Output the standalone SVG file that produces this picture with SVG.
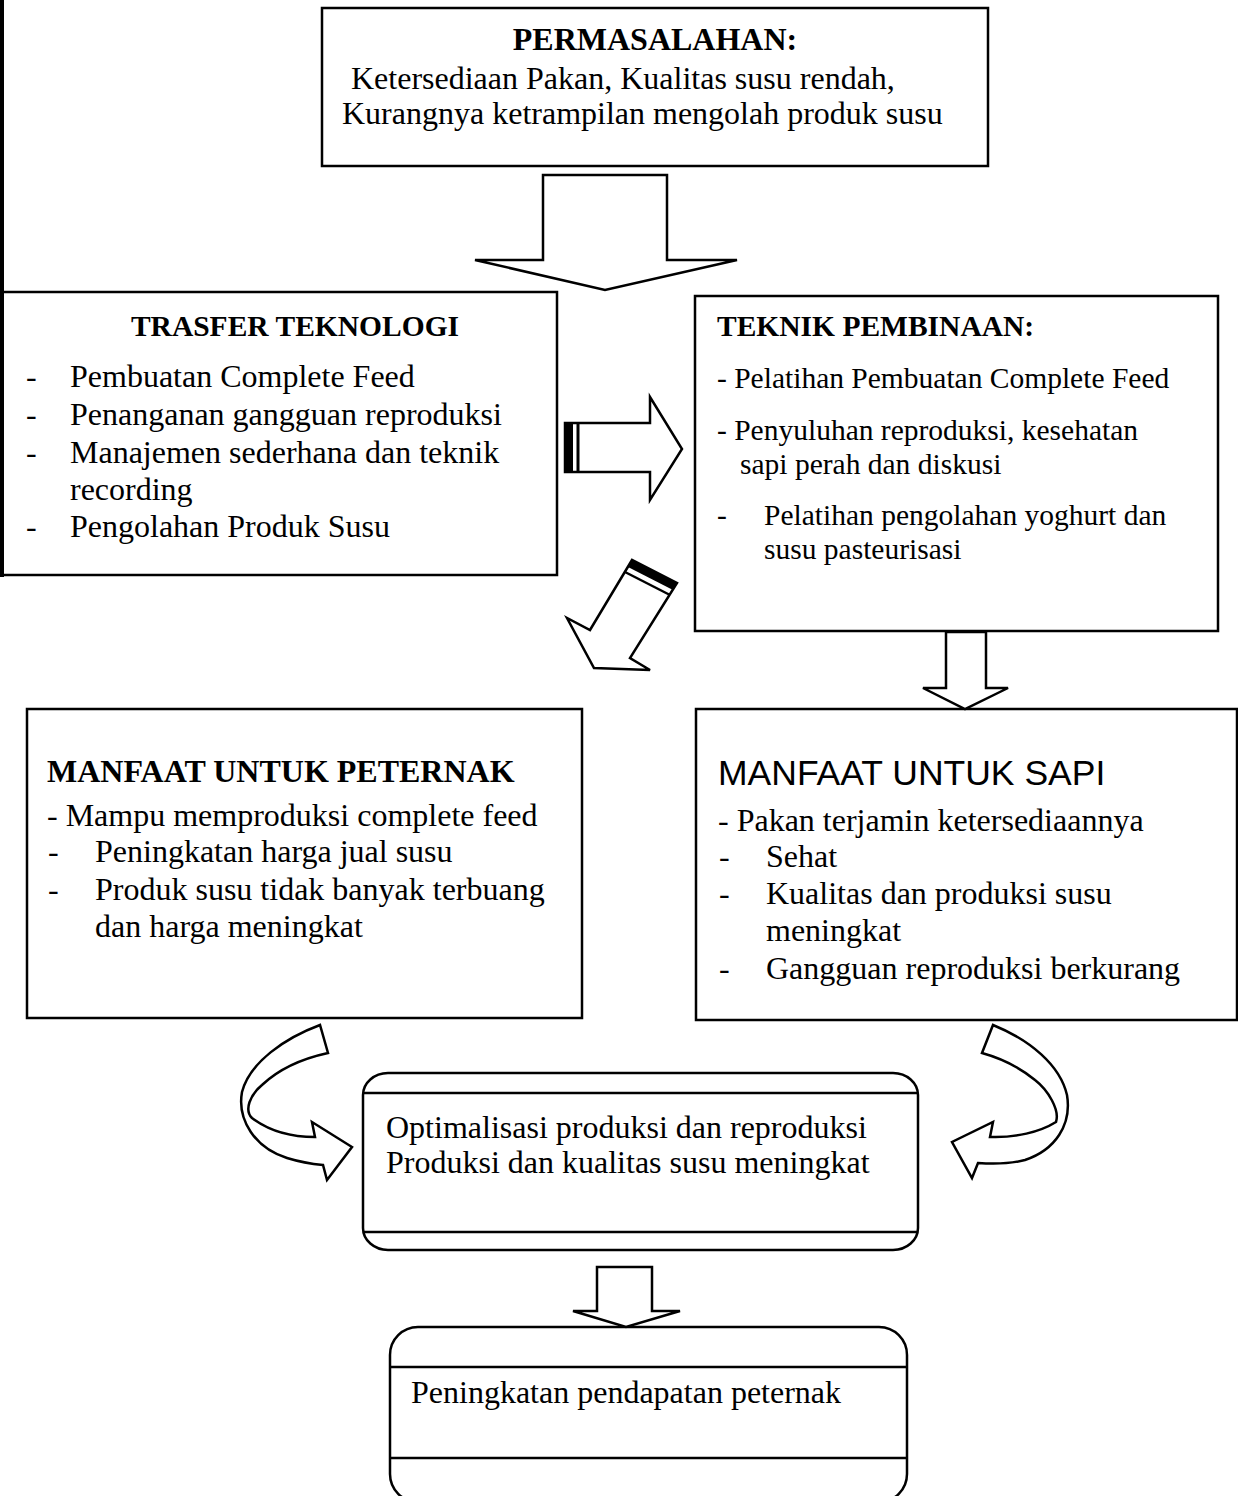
<svg xmlns="http://www.w3.org/2000/svg" width="1238" height="1496" viewBox="0 0 1238 1496">
<style>
.box{fill:none;stroke:#000;stroke-width:2.5}
.arr{fill:#fff;stroke:#000;stroke-width:2.5;stroke-linejoin:miter}
.t{font-family:"Liberation Serif","Times New Roman",serif;font-size:32px;fill:#000}
.s{font-size:29.5px}
.b{font-weight:bold}
.sans{font-family:"Liberation Sans",Arial,sans-serif;font-size:35.5px;fill:#000}
</style>
<rect width="1238" height="1496" fill="#fff"/>
<rect x="0" y="0" width="4" height="577" fill="#000"/>

<g id="permasalahan">
<rect class="box" x="322" y="8" width="666" height="158"/>
<text class="t b" x="655" y="50" text-anchor="middle">PERMASALAHAN:</text>
<text class="t" x="351" y="89">Ketersediaan Pakan, Kualitas susu rendah,</text>
<text class="t" x="342" y="124">Kurangnya ketrampilan mengolah produk susu</text>
</g>

<g id="trasfer-teknologi">
<rect class="box" x="2" y="292" width="555" height="283"/>
<text class="t s b" x="295" y="336" text-anchor="middle">TRASFER TEKNOLOGI</text>
<text class="t" x="26" y="387">-</text><text class="t" x="70" y="387">Pembuatan Complete Feed</text>
<text class="t" x="26" y="425">-</text><text class="t" x="70" y="425">Penanganan gangguan reproduksi</text>
<text class="t" x="26" y="463">-</text><text class="t" x="70" y="463">Manajemen sederhana dan teknik</text>
<text class="t" x="70" y="500">recording</text>
<text class="t" x="26" y="537">-</text><text class="t" x="70" y="537">Pengolahan Produk Susu</text>
</g>

<g id="teknik-pembinaan">
<rect class="box" x="695" y="296" width="523" height="335"/>
<text class="t s b" x="717" y="336">TEKNIK PEMBINAAN:</text>
<text class="t s" x="717" y="388">- Pelatihan Pembuatan Complete Feed</text>
<text class="t s" x="717" y="440">- Penyuluhan reproduksi, kesehatan</text>
<text class="t s" x="740" y="474">sapi perah dan diskusi</text>
<text class="t s" x="717" y="525">-</text><text class="t s" x="764" y="525">Pelatihan pengolahan yoghurt dan</text>
<text class="t s" x="764" y="559">susu pasteurisasi</text>
</g>

<g id="manfaat-peternak">
<rect class="box" x="27" y="709" width="555" height="309"/>
<text class="t b" x="47" y="782">MANFAAT UNTUK PETERNAK</text>
<text class="t" x="47" y="826">- Mampu memproduksi complete feed</text>
<text class="t" x="48" y="862">-</text><text class="t" x="95" y="862">Peningkatan harga jual susu</text>
<text class="t" x="48" y="900">-</text><text class="t" x="95" y="900">Produk susu tidak banyak terbuang</text>
<text class="t" x="95" y="937">dan harga meningkat</text>
</g>

<g id="manfaat-sapi">
<rect class="box" x="696" y="709" width="541" height="311"/>
<text class="sans" x="718" y="785">MANFAAT UNTUK SAPI</text>
<text class="t" x="718" y="831">- Pakan terjamin ketersediaannya</text>
<text class="t" x="719" y="867">-</text><text class="t" x="766" y="867">Sehat</text>
<text class="t" x="719" y="904">-</text><text class="t" x="766" y="904">Kualitas dan produksi susu</text>
<text class="t" x="766" y="941">meningkat</text>
<text class="t" x="719" y="979">-</text><text class="t" x="766" y="979">Gangguan reproduksi berkurang</text>
</g>

<g id="optimalisasi">
<rect class="box" x="363" y="1073" width="555" height="177" rx="25" ry="22"/>
<line class="box" x1="363" y1="1093" x2="918" y2="1093"/>
<line class="box" x1="363" y1="1232" x2="918" y2="1232"/>
<text class="t" x="386" y="1138">Optimalisasi produksi dan reproduksi</text>
<text class="t" x="386" y="1173">Produksi dan kualitas susu meningkat</text>
</g>

<g id="pendapatan">
<rect class="box" x="390" y="1327" width="517" height="175" rx="28" ry="28"/>
<line class="box" x1="390" y1="1367" x2="907" y2="1367"/>
<line class="box" x1="390" y1="1458" x2="907" y2="1458"/>
<text class="t" x="411" y="1403">Peningkatan pendapatan peternak</text>
</g>

<g id="connectors">
<polygon class="arr" points="543,175 667,175 667,260 737,260 605,290 475,260 543,260"/>
<polygon class="arr" points="565,423 650,423 650,397 682,449 650,500 650,472 565,472"/>
<rect x="565" y="423" width="8" height="49" fill="#000"/>
<line x1="578" y1="423" x2="578" y2="472" stroke="#000" stroke-width="3"/>
<polygon class="arr" points="632,560 590,630 567,618 594,668 650,670 630,658 677,583"/>
<polygon points="632,560 677,583 673,590 628,567" fill="#000"/>
<line x1="625" y1="572" x2="670" y2="595" stroke="#000" stroke-width="2.5"/>
<polygon class="arr" points="946,632 986,632 986,688 1008,688 965,709 923,688 946,688"/>
<polygon class="arr" points="597,1267 652,1267 652,1311 680,1311 626,1327 573,1311 597,1311"/>
<path class="arr" d="M320,1025 C285,1038 250,1062 242,1092 C237,1120 255,1148 287,1158 C300,1162 312,1164 323,1165 L327,1180 L352,1147 L312,1122 L315,1137 C290,1137 268,1130 252,1118 C244,1110 250,1095 262,1085 C280,1068 305,1058 328,1053 Z"/>
<path class="arr" d="M993,1025 C1030,1040 1060,1065 1067,1095 C1072,1125 1055,1150 1025,1160 C1010,1164 992,1164 978,1163 L972,1178 L952,1142 L993,1122 L990,1137 C1015,1138 1040,1132 1056,1122 C1060,1110 1048,1090 1035,1080 C1018,1066 1000,1058 982,1053 Z"/>
</g>
</svg>
